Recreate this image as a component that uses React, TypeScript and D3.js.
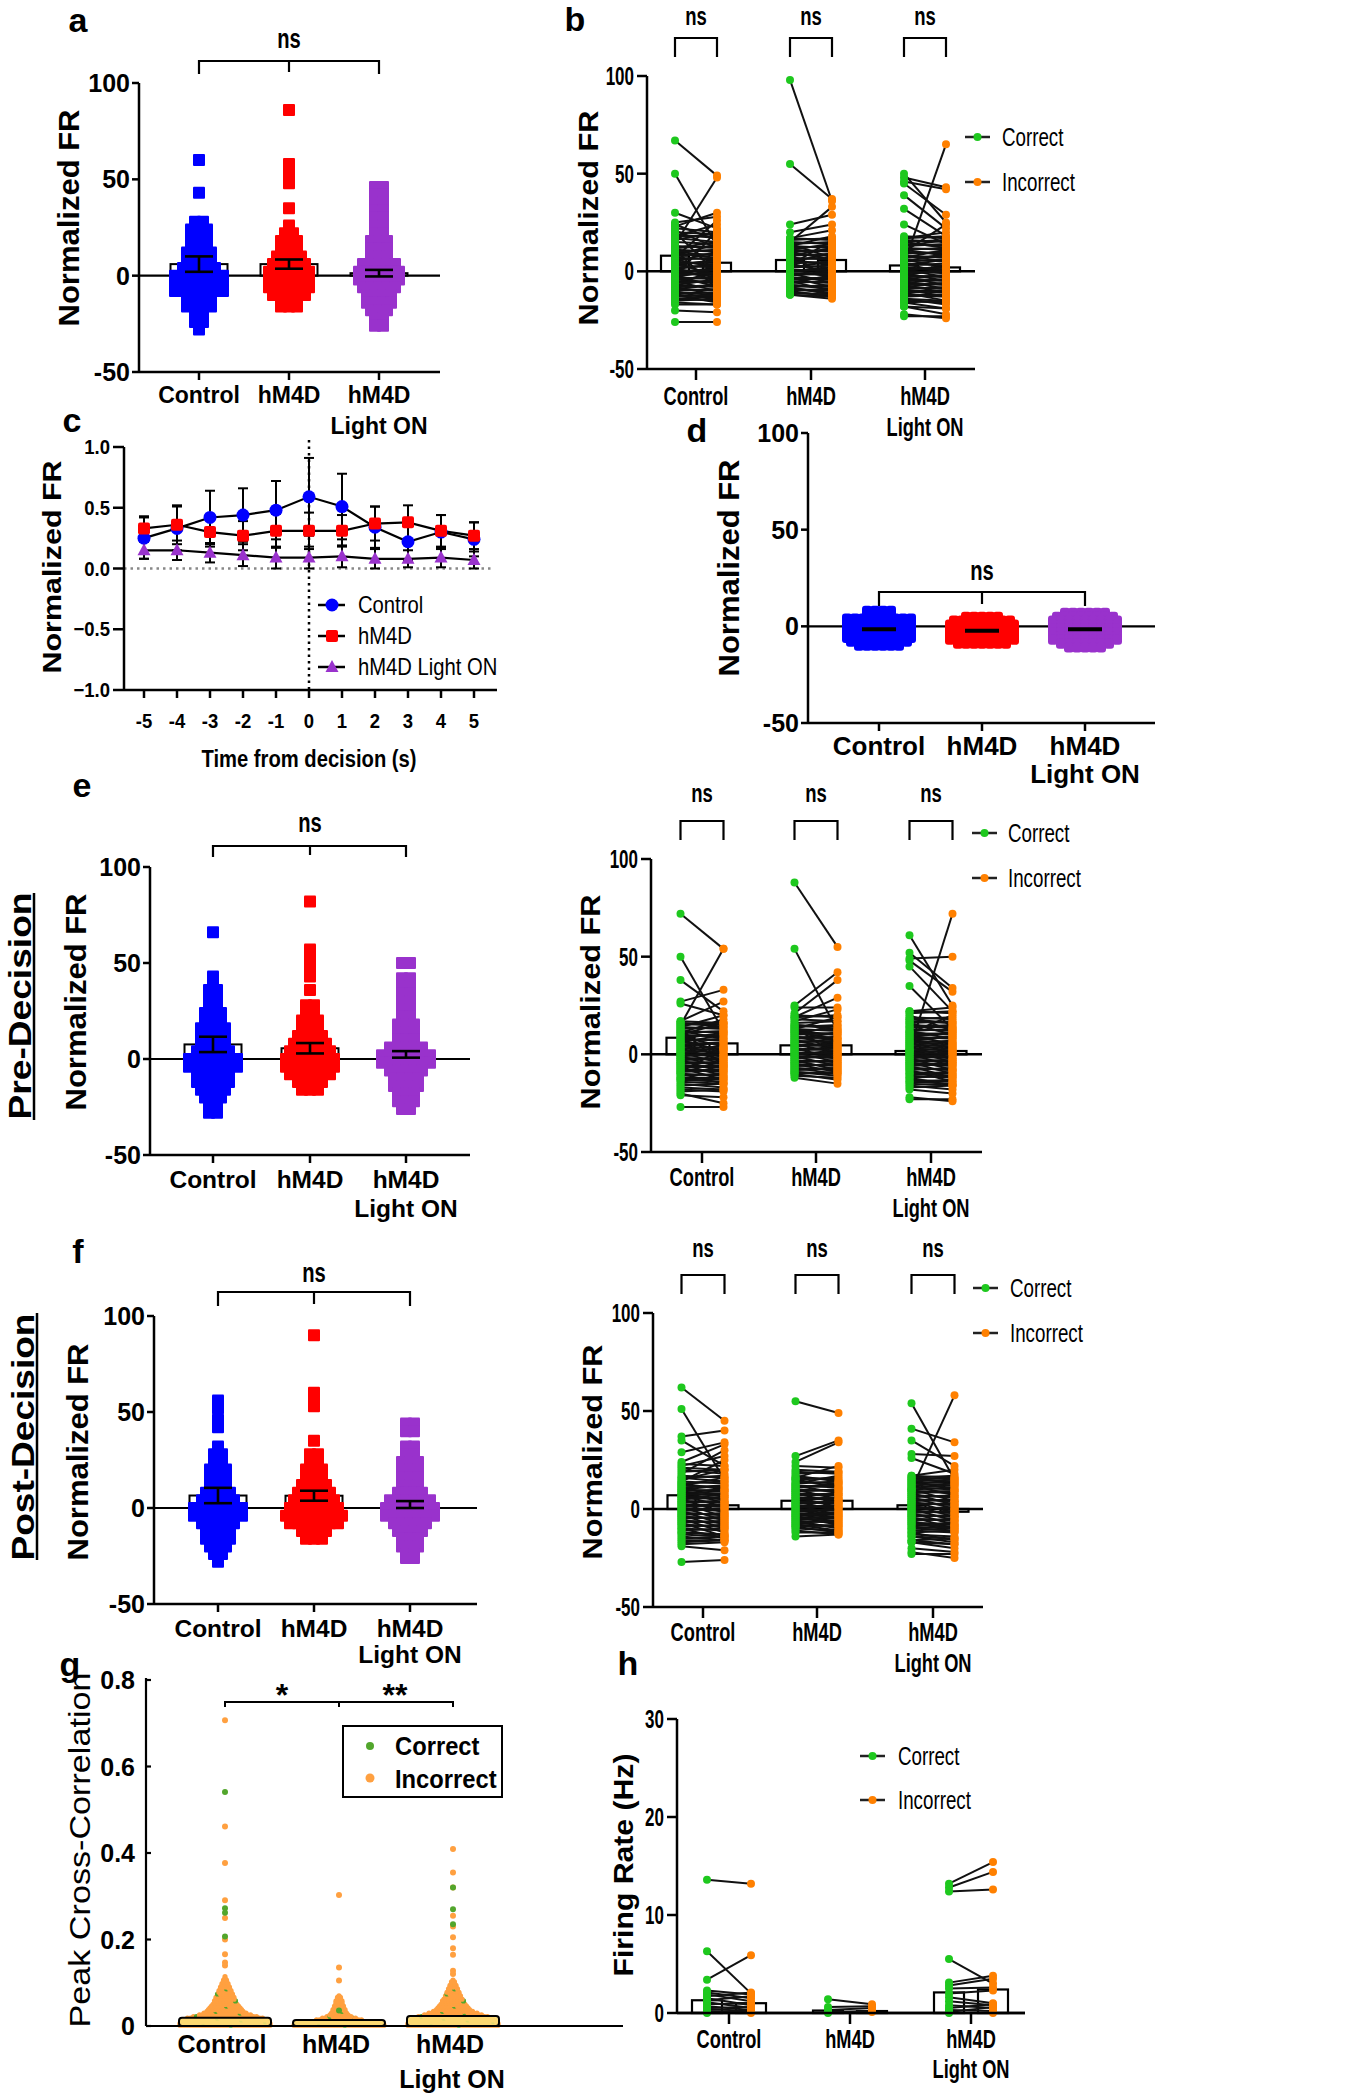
import React from 'react';
import * as d3 from 'd3';

const FONT = '"Liberation Sans", Arial, Helvetica, sans-serif';
const BLUE = '#0000ff', RED = '#ff0000', PURPLE = '#9932cc';
const GREEN = '#1ec81e', ORANGE = '#ff8000';
const G_GREEN = '#52a62c', G_ORANGE = '#ffa040';

// ---------- shared labels ----------
const CAT_LABELS = ['Control', 'hM4D', 'hM4D'];
const LIGHT_LABEL = 'Light ON';
const FR_TICKS = [-50, 0, 50, 100];
const C_YTICKS = [-1, -0.5, 0, 0.5, 1];
const G_YTICKS = [0, 0.2, 0.4, 0.6, 0.8];
const H_YTICKS = [0, 10, 20, 30];

// ---------- panel a (value, count per row) ----------
const aCtrlRows = [[60,1],[43,1],[28,2],[24,3],[20,3],[16,3],[12,4],[8,4],[4,5],[0,7],[-4,7],[-8,7],[-12,4],[-16,4],[-20,2],[-24,2],[-28,1]];
const aHm4dRows = [[86,1],[58,1],[55,1],[51,1],[48,1],[35,1],[26,1],[22,2],[18,3],[14,3],[10,4],[6,5],[2,6],[-2,6],[-6,6],[-10,5],[-14,3],[-16,3]];
const aLightRows = [[46,2],[42,2],[38,2],[34,2],[30,2],[26,2],[22,2],[18,3],[14,3],[10,3],[6,5],[2,6],[-2,6],[-6,5],[-10,4],[-14,4],[-18,3],[-22,2],[-26,2]];
const aMeans = [6, 6, 1.3];
const aSems = [4, 2.4, 1.7];

// ---------- panel e (left) ----------
const eCtrlRows = [[66,1],[43,1],[40,1],[36,2],[32,2],[28,2],[24,3],[20,3],[16,4],[12,4],[8,4],[4,5],[0,7],[-4,7],[-8,5],[-12,5],[-16,4],[-20,3],[-24,2],[-28,2]];
const eHm4dRows = [[82,1],[57,1],[53,1],[48,1],[43,1],[36,1],[28,2],[24,2],[20,3],[16,3],[12,4],[8,5],[4,6],[0,7],[-4,7],[-8,6],[-12,4],[-16,3]];
const eLightRows = [[50,2],[42,2],[38,2],[34,2],[30,2],[26,2],[22,2],[18,3],[14,3],[10,3],[6,5],[2,7],[-2,7],[-6,5],[-10,4],[-14,4],[-18,3],[-22,3],[-26,2]];
const eMeans = [7.6, 5.6, 2.4];
const eSems = [4, 2.7, 1.7];

// ---------- panel f (left) ----------
const fCtrlRows = [[56,1],[52,1],[46,1],[42,1],[32,1],[28,2],[24,2],[20,3],[16,3],[12,3],[8,4],[4,5],[0,7],[-4,7],[-8,5],[-12,4],[-16,4],[-20,3],[-24,2],[-28,1]];
const fHm4dRows = [[90,1],[60,1],[56,1],[53,1],[35,1],[28,2],[24,2],[20,3],[16,3],[12,4],[8,5],[4,6],[0,7],[-4,8],[-8,7],[-12,4],[-16,3]];
const fLightRows = [[44,2],[40,2],[32,2],[28,2],[24,3],[20,3],[16,3],[12,3],[8,4],[4,6],[0,7],[-4,7],[-8,5],[-12,4],[-16,3],[-20,3],[-24,2],[-26,2]];
const fMeans = [6.5, 6.4, 1.8];
const fSems = [4, 2.6, 1.8];

// ---------- panel d ----------
const dCtrlRows = [[8,4],[6,4],[4,9],[2,9],[0,9],[-2,9],[-4,9],[-6,9],[-8,8],[-10,6]];
const dHm4dRows = [[5,5],[3,8],[1,9],[-1,9],[-3,9],[-5,9],[-7,9],[-9,7]];
const dLightRows = [[7,6],[5,8],[3,9],[1,9],[-1,9],[-3,9],[-5,9],[-7,9],[-9,7],[-11,5]];
const dMeans = [-1.5, -2.3, -1.5];

// ---------- panel c ----------
const cTime = [-5,-4,-3,-2,-1,0,1,2,3,4,5];
const cCtrl = [0.25,0.33,0.42,0.44,0.48,0.59,0.51,0.34,0.22,0.30,0.24];
const cCtrlSem = [0.17,0.18,0.22,0.22,0.24,0.32,0.27,0.17,0.15,0.14,0.14];
const cHm4d = [0.33,0.36,0.30,0.27,0.31,0.31,0.31,0.37,0.38,0.31,0.27];
const cHm4dSem = [0.10,0.16,0.12,0.12,0.14,0.15,0.13,0.14,0.14,0.13,0.11];
const cLight = [0.15,0.15,0.13,0.11,0.09,0.09,0.10,0.08,0.08,0.09,0.07];
const cLightSem = [0.07,0.08,0.08,0.09,0.09,0.09,0.09,0.08,0.07,0.08,0.07];
const cLegend = ['Control', 'hM4D', 'hM4D Light ON'];

// ---------- paired panels [correct, incorrect] ----------
const bCtrl = [[67,49],[50,13],[30,22],[25,28],[23,30],[21,12],[14,48],[18,24],[16,20],[12,15],[10,8],[8,14],[6,2],[5,10],[4,-2],[3,6],[2,-5],[1,4],[0,-3],[-1,2],[-2,-8],[-3,1],[-4,-6],[-5,-10],[-6,0],[-7,-4],[-8,-12],[-9,-7],[-10,-15],[-11,-11],[-12,-16],[-14,-13],[-17,-17],[-20,-21],[-26,-26],[20,-1],[-3,21],[24,16],[11,-9],[7,26],
  [22,20],[20,19],[19,17],[18,18],[17,15],[15,14],[13,12],[12,13],[11,10],[10,11],[9,7],[8,9],[7,6],[6,7],[5,3],[4,5],[3,2],[2,3],[1,-1],[0,1],[-1,-2],[-2,-1],[-3,-4],[-4,-3],[-5,-6],[-6,-5],[-7,-8],[-8,-7],[-9,-10],[-10,-9],[-11,-12],[-12,-13],[-13,-12],[-14,-15],[-15,-14],[-16,-17]];
const bHm4d = [[98,36],[55,37],[24,29],[20,24],[17,21],[15,33],[13,18],[11,14],[10,6],[8,12],[6,3],[5,9],[4,-1],[3,16],[2,5],[1,-3],[0,2],[-1,-6],[-2,0],[-3,-8],[-4,-4],[-5,-10],[-6,-2],[-7,-9],[-8,-12],[-9,-11],[-10,-13],[-11,-12],[-12,-14],[14,7],[9,-5],
  [17,16],[16,17],[15,14],[14,15],[13,12],[12,13],[11,10],[10,11],[9,8],[8,9],[7,6],[6,7],[5,4],[4,5],[3,2],[2,3],[1,0],[0,1],[-1,-2],[-2,-1],[-3,-4],[-4,-3],[-5,-6],[-6,-5],[-7,-8],[-8,-7],[-9,-10],[-10,-9],[-11,-12],[-12,-13]];
const bLight = [[50,25],[48,43],[46,42],[45,29],[39,22],[32,18],[24,14],[4,65],[17,20],[15,12],[13,16],[11,8],[10,24],[8,5],[7,11],[6,2],[5,9],[4,-1],[3,6],[2,0],[1,-3],[0,3],[-1,-5],[-2,1],[-3,-7],[-4,-2],[-5,-9],[-6,-4],[-7,-11],[-8,-6],[-9,-13],[-10,-10],[-11,-15],[-12,-12],[-14,-17],[-16,-19],[-18,-22],[-23,-23],[-22,-24],
  [18,17],[17,18],[16,15],[15,16],[14,13],[13,14],[12,11],[11,12],[10,9],[9,10],[8,7],[7,8],[6,5],[5,6],[4,3],[3,4],[2,1],[1,2],[0,-1],[-1,0],[-2,-3],[-3,-2],[-4,-5],[-5,-4],[-6,-7],[-7,-6],[-8,-9],[-9,-8],[-10,-11],[-11,-10],[-12,-13],[-13,-12],[-14,-15],[-15,-16],[-16,-15],[-18,-19]];
const bBars = [[8,4.4],[5.8,5.8],[3,2]];

const eCtrl = [[72,54],[50,12],[38,22],[27,33],[26,20],[15,54],[17,27],[16,14],[14,20],[12,8],[10,16],[9,4],[8,11],[7,2],[6,10],[5,-1],[4,6],[3,-3],[2,3],[1,-5],[0,0],[-1,-7],[-2,-2],[-3,-9],[-4,-4],[-5,-11],[-6,-6],[-7,-13],[-8,-8],[-10,-15],[-12,-12],[-13,-14],[-15,-17],[-18,-19],[-21,-22],[-27,-27],[-20,-25],[11,18],[13,-6],[-9,3],
  [17,16],[16,15],[15,16],[14,13],[13,14],[12,11],[11,12],[10,9],[9,10],[8,7],[7,8],[6,5],[5,6],[4,3],[3,4],[2,1],[1,2],[0,-1],[-1,0],[-2,-3],[-3,-2],[-4,-5],[-5,-4],[-6,-7],[-7,-6],[-8,-9],[-9,-8],[-10,-11],[-11,-10],[-12,-13],[-13,-12],[-14,-15],[-16,-15],[-17,-18],[-19,-18]];
const eHm4d = [[88,55],[54,12],[25,42],[24,24],[21,38],[19,29],[17,23],[15,13],[13,19],[12,10],[11,8],[10,15],[9,5],[8,11],[7,3],[6,8],[5,1],[4,6],[3,-2],[2,4],[1,-4],[0,2],[-1,-6],[-2,0],[-3,-8],[-4,-3],[-5,-9],[-6,-5],[-7,-10],[-8,-7],[-9,-11],[-10,-13],[-12,-15],[14,-1],
  [20,19],[19,20],[18,17],[16,17],[15,14],[14,15],[13,12],[12,13],[11,10],[10,11],[9,8],[8,9],[7,6],[6,7],[5,4],[4,5],[3,2],[2,3],[1,0],[0,1],[-1,-2],[-2,-1],[-3,-4],[-4,-3],[-5,-6],[-6,-5],[-7,-8],[-8,-7],[-9,-10],[-10,-9],[-11,-12]];
const eLight = [[61,25],[52,34],[48,32],[45,22],[49,50],[35,13],[2,72],[22,24],[20,12],[18,16],[16,10],[14,14],[12,8],[11,20],[10,5],[9,11],[8,3],[7,9],[6,1],[5,6],[4,-2],[3,4],[2,-4],[1,2],[0,-6],[-1,0],[-2,-8],[-3,-3],[-4,-10],[-5,-5],[-6,-12],[-7,-8],[-8,-14],[-10,-11],[-12,-16],[-14,-15],[-16,-18],[-18,-20],[-23,-23],[-22,-24],
  [22,21],[21,22],[19,18],[18,19],[17,16],[16,17],[15,14],[14,15],[13,12],[12,13],[11,10],[10,11],[9,8],[8,9],[7,6],[6,7],[5,4],[4,5],[3,2],[2,3],[1,0],[0,1],[-1,-2],[-2,-1],[-3,-4],[-4,-3],[-5,-6],[-6,-5],[-7,-8],[-8,-7],[-9,-10],[-10,-9],[-11,-12],[-12,-11],[-13,-14],[-14,-13],[-15,-16],[-17,-16]];
const eBars = [[8.5,5.6],[4.6,4.6],[1.7,1.7]];

const fCtrl = [[62,45],[51,15],[37,40],[35,22],[29,34],[24,33],[22,27],[20,18],[18,30],[16,14],[15,20],[13,10],[12,16],[11,6],[10,12],[9,3],[8,9],[7,1],[6,7],[5,-2],[4,4],[3,-4],[2,2],[1,-6],[0,0],[-1,-8],[-2,-3],[-3,-10],[-4,-5],[-5,-12],[-6,-7],[-7,-14],[-8,-9],[-10,-15],[-12,-13],[-14,-16],[-16,-16],[-19,-21],[-27,-26],[14,25],
  [23,22],[21,20],[19,20],[17,16],[16,17],[14,13],[13,14],[12,11],[11,12],[10,9],[9,10],[8,7],[7,8],[6,5],[5,6],[4,3],[3,4],[2,1],[1,2],[0,-1],[-1,0],[-2,-3],[-3,-2],[-4,-5],[-5,-4],[-6,-7],[-7,-6],[-8,-9],[-9,-8],[-10,-11],[-11,-10],[-12,-13],[-13,-14],[-15,-14],[-17,-16],[-18,-17]];
const fHm4d = [[55,49],[27,35],[24,34],[22,21],[20,19],[17,14],[16,22],[15,11],[13,17],[12,8],[11,13],[10,5],[9,10],[8,3],[7,7],[6,1],[5,5],[4,-1],[3,3],[2,-3],[1,1],[0,-5],[-1,-2],[-2,-7],[-3,-4],[-4,-8],[-5,-6],[-6,-10],[-7,-9],[-8,-11],[-9,-12],[-11,-13],[-14,-13],
  [19,18],[18,19],[16,15],[15,16],[14,13],[13,14],[12,11],[11,12],[10,9],[9,10],[8,7],[7,8],[6,5],[5,6],[4,3],[3,4],[2,1],[1,2],[0,-1],[-1,0],[-2,-3],[-3,-2],[-4,-5],[-5,-4],[-6,-7],[-7,-6],[-8,-9],[-9,-8],[-10,-11],[-12,-12]];
const fLight = [[54,15],[41,34],[35,22],[28,27],[26,18],[10,58],[17,20],[16,13],[15,16],[14,10],[13,14],[12,7],[11,12],[10,4],[9,9],[8,2],[7,6],[6,0],[5,4],[4,-2],[3,2],[2,-4],[1,0],[0,-6],[-1,-2],[-2,-8],[-3,-4],[-4,-10],[-5,-6],[-6,-12],[-7,-8],[-8,-9],[-10,-11],[-12,-16],[-14,-17],[-16,-18],[-17,-20],[-20,-22],[-23,-23],[-22,-25],
  [17,16],[16,17],[15,14],[14,15],[13,12],[12,13],[11,10],[10,11],[9,8],[8,9],[7,6],[6,7],[5,4],[4,5],[3,2],[2,3],[1,0],[0,1],[-1,-2],[-2,-1],[-3,-4],[-4,-3],[-5,-6],[-6,-5],[-7,-8],[-8,-7],[-9,-10],[-10,-9],[-11,-12],[-12,-11],[-13,-14],[-14,-15],[-16,-15],[-17,-18]];
const fBars = [[7,1.9],[4.2,4.2],[1.9,-1.4]];

// ---------- panel h (Hz) ----------
const hCtrl = [[13.6,13.2],[6.3,2.0],[3.4,5.9],[2.3,1.9],[2.1,1.5],[1.9,1.2],[1.7,2.1],[1.5,0.8],[1.3,1.7],[1.1,0.5],[0.9,1.0],[0.7,0.3],[0.5,0.6],[0.4,0.2],[0.2,0.1],[0.1,0.0],[0.0,0.2]];
const hHm4d = [[1.4,0.9],[0.6,0.7],[0.3,0.5],[0.1,0.2],[0.0,0.1]];
const hLight = [[13.2,15.4],[12.8,14.4],[12.4,12.6],[5.5,3.0],[3.1,3.8],[2.8,3.5],[2.5,2.6],[2.0,2.3],[1.6,1.0],[1.2,0.8],[0.8,0.5],[0.5,0.9],[0.3,0.2],[0.1,0.6],[0.0,0.0]];
const hBars = [[1.3,1.0],[0.25,0.2],[2.1,2.4]];

// ---------- panel g (peak cross-correlation) ----------
const gCtrlRows = [[0.002,31],[0.006,31],[0.010,30],[0.014,28],[0.018,26],[0.022,22],[0.026,18],[0.030,15],[0.034,13],[0.038,12],[0.042,11],[0.046,10],[0.050,9],[0.054,8],[0.058,8],[0.062,7],[0.066,7],[0.070,6],[0.074,6],[0.078,5],[0.082,5],[0.086,4],[0.090,4],[0.094,3],[0.098,3],[0.102,2],[0.106,2],[0.110,1],[0.114,1]];
const gHm4dRows = [[0.002,31],[0.006,30],[0.010,24],[0.014,16],[0.018,12],[0.022,9],[0.026,7],[0.030,6],[0.034,5],[0.038,5],[0.042,4],[0.046,4],[0.050,3],[0.054,3],[0.058,3],[0.062,2],[0.066,2],[0.070,1]];
const gLightRows = [[0.002,31],[0.006,31],[0.010,30],[0.014,29],[0.018,27],[0.022,24],[0.026,20],[0.030,17],[0.034,14],[0.038,12],[0.042,11],[0.046,10],[0.050,9],[0.054,8],[0.058,8],[0.062,7],[0.066,6],[0.070,6],[0.074,5],[0.078,5],[0.082,4],[0.086,4],[0.090,3],[0.094,3],[0.098,2],[0.102,2],[0.106,1]];
const gCtrlOutInc = [0.707,0.461,0.377,0.291,0.25,0.20,0.166,0.147,0.14];
const gCtrlOutCor = [0.541,0.272,0.262,0.207];
const gHm4dOutInc = [0.303,0.135,0.105];
const gHm4dOutCor = [0.036];
const gLightOutInc = [0.409,0.355,0.32,0.255,0.23,0.205,0.18,0.165,0.128,0.12];
const gLightOutCor = [0.32,0.27,0.235];
const gBox = [0.019, 0.014, 0.023];

// ---------- text helper ----------
type TP = { x: number; y: number; t: string; size?: number; anchor?: string; weight?: any; sx?: number; rot?: number; len?: number; fill?: string };
const T = ({ x, y, t, size = 24, anchor = 'middle', weight = 'bold', sx = 1, rot = 0, len, fill = '#000' }: TP) => {
  const tr = `translate(${x},${y})` + (rot ? ` rotate(${rot})` : '') + (sx !== 1 ? ` scale(${sx},1)` : '');
  const extra: any = len ? { textLength: len, lengthAdjust: 'spacingAndGlyphs' } : {};
  return (
    <text transform={tr} x={0} y={0} fontSize={size} textAnchor={anchor as any} fontWeight={weight} fill={fill} fontFamily={FONT} {...extra}>
      {t}
    </text>
  );
};

const VTitle = ({ cx, cy, t, size = 28, len, weight = 'bold' }: { cx: number; cy: number; t: string; size?: number; len?: number; weight?: any }) => (
  <T x={cx + 0.36 * size} y={cy} t={t} size={size} rot={-90} len={len} weight={weight} />
);

function CatLabels({ cats, labY, lab2Y, size, sx = 1 }: { cats: number[]; labY: number; lab2Y: number; size: number; sx?: number }) {
  return (
    <g>
      {cats.map((cx, i) => <T key={i} x={cx} y={labY} t={CAT_LABELS[i]} size={size} sx={sx} />)}
      <T x={cats[2]} y={lab2Y} t={LIGHT_LABEL} size={size} sx={sx} />
    </g>
  );
}

// ---------- swarm panel ----------
function SwarmPanel({ c, groups }: { c: any; groups: any[] }) {
  const y = d3.scaleLinear().domain([-50, 100]).range([c.yM50, c.y100]);
  const y0 = y(0);
  const sq = c.sq, sp = c.sp;
  return (
    <g>
      {c.bars && groups.map((g, i) => (
        <rect key={'bar' + i} x={c.cats[i] - c.barHW} y={Math.min(y(g.mean), y0)} width={2 * c.barHW}
          height={Math.abs(y0 - y(g.mean))} fill="#fff" stroke="#000" strokeWidth={2} />
      ))}
      <line x1={c.axisX} x2={c.xEnd} y1={y0} y2={y0} stroke="#000" strokeWidth={2.2} />
      {groups.map((g, gi) => (
        <g key={'sw' + gi} fill={g.color}>
          {g.rows.flatMap(([v, n]: number[], ri: number) =>
            d3.range(n).map((k) => (
              <rect key={ri + '-' + k} x={c.cats[gi] + (k - (n - 1) / 2) * sp - sq / 2} y={y(v) - sq / 2}
                width={sq} height={sq} rx={c.rx || 1} />
            ))
          )}
        </g>
      ))}
      {c.bars && groups.map((g, i) => {
        const cx = c.cats[i];
        const top = y(g.mean + g.sem), bot = y(g.mean - g.sem);
        return (
          <g key={'err' + i} stroke="#000" strokeWidth={2.6}>
            <line x1={cx} x2={cx} y1={top} y2={bot} />
            <line x1={cx - 14} x2={cx + 14} y1={top} y2={top} />
            <line x1={cx - 14} x2={cx + 14} y1={bot} y2={bot} />
          </g>
        );
      })}
      {!c.bars && groups.map((g, i) => (
        <line key={'m' + i} x1={c.cats[i] - 17} x2={c.cats[i] + 17} y1={y(g.mean)} y2={y(g.mean)} stroke="#000" strokeWidth={4} />
      ))}
      {/* axes */}
      <g stroke="#000" strokeWidth={2.5}>
        <line x1={c.axisX} x2={c.axisX} y1={y(-50)} y2={y(100)} />
        <line x1={c.axisX} x2={c.xEnd} y1={y(-50)} y2={y(-50)} />
        {FR_TICKS.map((v) => <line key={v} x1={c.axisX - 7} x2={c.axisX} y1={y(v)} y2={y(v)} />)}
        {c.cats.map((cx: number, i: number) => <line key={'xt' + i} x1={cx} x2={cx} y1={y(-50)} y2={y(-50) + 8} />)}
      </g>
      {FR_TICKS.map((v) => <T key={'tl' + v} x={c.axisX - 9} y={y(v) + 9} t={String(v)} size={c.tickSize} anchor="end" />)}
      {/* bracket */}
      <g stroke="#000" strokeWidth={2.2} fill="none">
        <polyline points={`${c.cats[0]},${c.brEnd} ${c.cats[0]},${c.brY} ${c.cats[2]},${c.brY} ${c.cats[2]},${c.brEnd}`} />
        <line x1={c.cats[1]} x2={c.cats[1]} y1={c.brY} y2={c.brEnd - 2} />
      </g>
      <T x={c.cats[1]} y={c.nsY} t="ns" size={28} sx={0.72} />
      <CatLabels cats={c.cats} labY={c.labY} lab2Y={c.lab2Y} size={c.labSize} />
      <VTitle cx={c.titleX} cy={c.titleY} t="Normalized FR" size={30} len={217} />
    </g>
  );
}

// ---------- paired panel ----------
function PairPanel({ c, groups, bars }: { c: any; groups: number[][][]; bars: number[][] }) {
  const y = d3.scaleLinear().domain(c.domain).range([c.yBot, c.yTop]);
  const y0 = y(0);
  const hw = c.barHW;
  return (
    <g>
      {bars.map((b, i) => {
        const gx = c.cats[i] - c.off, ox = c.cats[i] + c.off;
        return (
          <g key={'bars' + i} fill="#fff" stroke="#000" strokeWidth={2.2}>
            <rect x={gx - hw} y={Math.min(y(b[0]), y0)} width={2 * hw} height={Math.abs(y0 - y(b[0]))} />
            <rect x={ox - hw} y={Math.min(y(b[1]), y0)} width={2 * hw} height={Math.abs(y0 - y(b[1]))} />
          </g>
        );
      })}
      <line x1={c.axisX} x2={c.xEnd} y1={y0} y2={y0} stroke="#000" strokeWidth={2.5} />
      {groups.map((pairs, gi) => {
        const gx = c.cats[gi] - c.off, ox = c.cats[gi] + c.off;
        return (
          <g key={'pg' + gi}>
            <g stroke="#111" strokeWidth={2}>
              {pairs.map((p, k) => <line key={k} x1={gx} x2={ox} y1={y(p[0])} y2={y(p[1])} />)}
            </g>
            {pairs.map((p, k) => <circle key={'g' + k} cx={gx} cy={y(p[0])} r={4} fill={GREEN} />)}
            {pairs.map((p, k) => <circle key={'o' + k} cx={ox} cy={y(p[1])} r={4} fill={ORANGE} />)}
          </g>
        );
      })}
      <g stroke="#000" strokeWidth={2.5}>
        <line x1={c.axisX} x2={c.axisX} y1={c.yBot} y2={c.yTop} />
        <line x1={c.axisX} x2={c.xEnd} y1={c.yBot} y2={c.yBot} />
        {c.ticks.map((v: number) => <line key={v} x1={c.axisX - 10} x2={c.axisX} y1={y(v)} y2={y(v)} />)}
        {c.cats.map((cx: number, i: number) => <line key={'xt' + i} x1={cx} x2={cx} y1={c.yBot} y2={c.yBot + 11} />)}
      </g>
      {c.ticks.map((v: number) => <T key={'tl' + v} x={c.axisX - 13} y={y(v) + 9} t={String(v)} size={25} sx={0.68} anchor="end" />)}
      {c.ns && c.cats.map((cx: number, i: number) => (
        <g key={'ns' + i}>
          <polyline points={`${cx - c.off},${c.brBot} ${cx - c.off},${c.brTop} ${cx + c.off},${c.brTop} ${cx + c.off},${c.brBot}`}
            fill="none" stroke="#000" strokeWidth={2.2} />
          <T x={cx} y={c.nsY} t="ns" size={25} sx={0.74} />
        </g>
      ))}
      {/* legend */}
      {[['Correct', GREEN, c.legY[0]], ['Incorrect', ORANGE, c.legY[1]]].map(([lab, col, ly]: any) => (
        <g key={lab}>
          <line x1={c.legLine} x2={c.legLine + 25} y1={ly} y2={ly} stroke="#222" strokeWidth={2.5} />
          <circle cx={c.legLine + 12.5} cy={ly} r={4} fill={col} />
          <T x={c.legText} y={ly + 9} t={lab} size={25} weight="normal" sx={0.75} anchor="start" />
        </g>
      ))}
      <CatLabels cats={c.cats} labY={c.labY} lab2Y={c.lab2Y} size={25} sx={0.73} />
      <VTitle cx={c.titleX} cy={c.titleY} t={c.title} size={27} len={c.titleLen} />
    </g>
  );
}

// ---------- panel c ----------
function PanelC() {
  const x = d3.scaleLinear().domain([-5, 5]).range([144, 474]);
  const y = d3.scaleLinear().domain([-1, 1]).range([690, 447]);
  const series = [
    { m: cCtrl, s: cCtrlSem, color: BLUE, shape: 'circle' },
    { m: cHm4d, s: cHm4dSem, color: RED, shape: 'square' },
    { m: cLight, s: cLightSem, color: PURPLE, shape: 'tri' },
  ];
  const line = d3.line<number>().x((_, i) => x(cTime[i])).y((v) => y(v));
  const marker = (shape: string, cx: number, cy: number, color: string, key: any) => {
    if (shape === 'circle') return <circle key={key} cx={cx} cy={cy} r={6.5} fill={color} />;
    if (shape === 'square') return <rect key={key} x={cx - 6} y={cy - 6} width={12} height={12} rx={2} fill={color} />;
    return <path key={key} d={`M${cx},${cy - 7} L${cx + 6.5},${cy + 5} L${cx - 6.5},${cy + 5} Z`} fill={color} />;
  };
  return (
    <g>
      <line x1={124} x2={492} y1={y(0)} y2={y(0)} stroke="#888" strokeWidth={2.5} strokeDasharray="2.5,4" />
      <line x1={x(0)} x2={x(0)} y1={440} y2={690} stroke="#000" strokeWidth={2.5} strokeDasharray="2.5,4" />
      {series.map((s, si) => (
        <g key={'eb' + si} stroke="#000" strokeWidth={2}>
          {s.m.map((v, i) => (
            <g key={i}>
              <line x1={x(cTime[i])} x2={x(cTime[i])} y1={y(v + s.s[i])} y2={y(v - s.s[i])} />
              <line x1={x(cTime[i]) - 5} x2={x(cTime[i]) + 5} y1={y(v + s.s[i])} y2={y(v + s.s[i])} />
              <line x1={x(cTime[i]) - 5} x2={x(cTime[i]) + 5} y1={y(v - s.s[i])} y2={y(v - s.s[i])} />
            </g>
          ))}
        </g>
      ))}
      {series.map((s, si) => (
        <path key={'ln' + si} d={line(s.m) || ''} fill="none" stroke="#000" strokeWidth={2.2} />
      ))}
      {series.map((s, si) => (
        <g key={'mk' + si}>{s.m.map((v, i) => marker(s.shape, x(cTime[i]), y(v), s.color, i))}</g>
      ))}
      <g stroke="#000" strokeWidth={2.5}>
        <line x1={124} x2={124} y1={690} y2={447} />
        <line x1={124} x2={497} y1={690} y2={690} />
        {C_YTICKS.map((v) => <line key={v} x1={113} x2={124} y1={y(v)} y2={y(v)} />)}
        {cTime.map((t) => <line key={'xt' + t} x1={x(t)} x2={x(t)} y1={690} y2={698} />)}
      </g>
      {C_YTICKS.map((v) => <T key={'yl' + v} x={110} y={y(v) + 7} t={d3.format('.1f')(v)} size={21} sx={0.88} anchor="end" />)}
      {cTime.map((t) => <T key={'xl' + t} x={x(t)} y={728} t={String(t)} size={21} sx={0.88} />)}
      <T x={309} y={767} t="Time from decision (s)" size={23} len={215} />
      <VTitle cx={52} cy={567} t="Normalized FR" size={26} len={213} />
      {series.map((s, i) => {
        const ly = [605, 636, 667][i];
        return (
          <g key={'lg' + i}>
            <line x1={318} x2={345} y1={ly} y2={ly} stroke="#000" strokeWidth={2.5} />
            {marker(s.shape, 332, ly, s.color, 'm')}
            <T x={358} y={ly + 8} t={cLegend[i]} size={23} weight="normal" sx={0.88} anchor="start" />
          </g>
        );
      })}
    </g>
  );
}

// ---------- panel g ----------
function PanelG() {
  const cats = [225, 339, 453];
  const y = d3.scaleLinear().domain([0, 0.8]).range([2026, 1680]);
  const groups = [
    { rows: gCtrlRows, inc: gCtrlOutInc, cor: gCtrlOutCor },
    { rows: gHm4dRows, inc: gHm4dOutInc, cor: gHm4dOutCor },
    { rows: gLightRows, inc: gLightOutInc, cor: gLightOutCor },
  ];
  return (
    <g>
      {groups.map((g, gi) => (
        <g key={'gg' + gi}>
          {g.rows.flatMap(([v, n], ri) =>
            d3.range(n).map((k) => (
              <circle key={ri + '-' + k} cx={cats[gi] + (k - (n - 1) / 2) * 3} cy={y(v)} r={2.6}
                fill={(k * 7 + ri * 5) % 29 === 3 ? G_GREEN : G_ORANGE} />
            ))
          )}
          {g.inc.map((v, k) => <circle key={'i' + k} cx={cats[gi]} cy={y(v)} r={3} fill={G_ORANGE} />)}
          {g.cor.map((v, k) => <circle key={'c' + k} cx={cats[gi]} cy={y(v)} r={3} fill={G_GREEN} />)}
          <rect x={cats[gi] - 46} y={y(gBox[gi])} width={92} height={y(0) - y(gBox[gi])} rx={3}
            fill="#fbe27a" fillOpacity={0.85} stroke="#000" strokeWidth={2} />
        </g>
      ))}
      <g stroke="#000" strokeWidth={2.2}>
        <line x1={146} x2={146} y1={2026} y2={1678} />
        <line x1={146} x2={623} y1={2026} y2={2026} />
        {G_YTICKS.map((v) => <line key={v} x1={146} x2={151} y1={y(v)} y2={y(v)} />)}
      </g>
      {G_YTICKS.map((v) => <T key={'yl' + v} x={135} y={y(v) + 9} t={v === 0 ? '0' : d3.format('.1f')(v)} size={25} anchor="end" />)}
      {cats.map((cx, i) => <T key={'xl' + i} x={cx - 3} y={2053} t={CAT_LABELS[i]} size={25} />)}
      <T x={cats[2] - 1} y={2088} t={LIGHT_LABEL} size={25} />
      <VTitle cx={80} cy={1850} t="Peak Cross-Correlation" size={29} len={355} weight="normal" />
      <g stroke="#000" strokeWidth={2} fill="none">
        <polyline points={`${cats[0]},1707 ${cats[0]},1702 ${cats[2]},1702 ${cats[2]},1707`} />
        <line x1={cats[1]} x2={cats[1]} y1={1702} y2={1707} />
      </g>
      <T x={282} y={1706} t="*" size={32} />
      <T x={395} y={1706} t="**" size={32} />
      <rect x={343} y={1726} width={159} height={71} fill="#fff" stroke="#000" strokeWidth={2} />
      <circle cx={370} cy={1746} r={4} fill={G_GREEN} />
      <circle cx={370} cy={1778} r={4.5} fill={G_ORANGE} />
      <T x={395} y={1755} t="Correct" size={25} sx={0.95} anchor="start" />
      <T x={395} y={1788} t="Incorrect" size={25} sx={0.95} anchor="start" />
    </g>
  );
}

export default function App() {
  const aCfg = { axisX: 139, y100: 83, yM50: 372, xEnd: 440, cats: [199, 289, 379], brY: 61, brEnd: 74, nsY: 48, labY: 403, lab2Y: 434, titleX: 68, titleY: 218, labSize: 23, tickSize: 25, barHW: 28.5, sq: 12, sp: 8, bars: true };
  const eCfg = { axisX: 150, y100: 867, yM50: 1155, xEnd: 470, cats: [213, 310, 406], brY: 846, brEnd: 857, nsY: 832, labY: 1188, lab2Y: 1217, titleX: 75, titleY: 1002, labSize: 24.5, tickSize: 25, barHW: 28.5, sq: 12, sp: 8, bars: true };
  const fCfg = { axisX: 154, y100: 1316, yM50: 1604, xEnd: 477, cats: [218, 314, 410], brY: 1292, brEnd: 1306, nsY: 1282, labY: 1637, lab2Y: 1663, titleX: 77, titleY: 1452, labSize: 24.5, tickSize: 25, barHW: 28.5, sq: 12, sp: 8, bars: true };
  const dCfg = { axisX: 808, y100: 433, yM50: 723, xEnd: 1155, cats: [879, 982, 1085], brY: 592, brEnd: 606, nsY: 580, labY: 755, lab2Y: 783, titleX: 728, titleY: 568, labSize: 26, tickSize: 25, sq: 10, sp: 8, rx: 3, bars: false };

  const bCfg = { domain: [-50, 100], yBot: 369, yTop: 76, axisX: 647, xEnd: 975, cats: [696, 811, 925], off: 21, barHW: 14, ticks: FR_TICKS, ns: true, brTop: 38, brBot: 57, nsY: 25, legLine: 965, legText: 1002, legY: [137, 182], labY: 405, lab2Y: 436, titleX: 588, titleY: 218, title: 'Normalized FR', titleLen: 215 };
  const erCfg = { domain: [-50, 100], yBot: 1152, yTop: 859, axisX: 651, xEnd: 982, cats: [702, 816, 931], off: 21.5, barHW: 14, ticks: FR_TICKS, ns: true, brTop: 821, brBot: 840, nsY: 802, legLine: 972, legText: 1008, legY: [833, 878], labY: 1186, lab2Y: 1217, titleX: 590, titleY: 1002, title: 'Normalized FR', titleLen: 215 };
  const frCfg = { domain: [-50, 100], yBot: 1607, yTop: 1313, axisX: 653, xEnd: 983, cats: [703, 817, 933], off: 21.5, barHW: 14, ticks: FR_TICKS, ns: true, brTop: 1275, brBot: 1294, nsY: 1257, legLine: 973, legText: 1010, legY: [1288, 1333], labY: 1641, lab2Y: 1672, titleX: 592, titleY: 1452, title: 'Normalized FR', titleLen: 215 };
  const hCfg = { domain: [0, 30], yBot: 2013, yTop: 1719, axisX: 677, xEnd: 1025, cats: [729, 850, 971], off: 22, barHW: 15, ticks: H_YTICKS, ns: false, legLine: 860, legText: 898, legY: [1756, 1800], labY: 2048, lab2Y: 2078, titleX: 623, titleY: 1865, title: 'Firing Rate (Hz)', titleLen: 223 };

  const grp = (rows: number[][][], means: number[], sems: number[]) =>
    rows.map((r, i) => ({ rows: r, mean: means[i], sem: sems[i], color: [BLUE, RED, PURPLE][i] }));

  return (
    <div style={{ position: 'absolute', left: 0, top: 0 }}>
      <svg width={1351} height={2100} viewBox="0 0 1351 2100" style={{ display: 'block', background: '#fff' }}>
        <rect width={1351} height={2100} fill="#fff" />
        <SwarmPanel c={aCfg} groups={grp([aCtrlRows, aHm4dRows, aLightRows], aMeans, aSems)} />
        <PairPanel c={bCfg} groups={[bCtrl, bHm4d, bLight]} bars={bBars} />
        <PanelC />
        <SwarmPanel c={dCfg} groups={grp([dCtrlRows, dHm4dRows, dLightRows], dMeans, [0, 0, 0])} />
        <SwarmPanel c={eCfg} groups={grp([eCtrlRows, eHm4dRows, eLightRows], eMeans, eSems)} />
        <PairPanel c={erCfg} groups={[eCtrl, eHm4d, eLight]} bars={eBars} />
        <SwarmPanel c={fCfg} groups={grp([fCtrlRows, fHm4dRows, fLightRows], fMeans, fSems)} />
        <PairPanel c={frCfg} groups={[fCtrl, fHm4d, fLight]} bars={fBars} />
        <PanelG />
        <PairPanel c={hCfg} groups={[hCtrl, hHm4d, hLight]} bars={hBars} />

        {/* panel letters */}
        <T x={78} y={32} t="a" size={34} />
        <T x={575} y={31} t="b" size={34} />
        <T x={72} y={432} t="c" size={34} />
        <T x={697} y={442} t="d" size={34} />
        <T x={82} y={797} t="e" size={34} />
        <T x={78} y={1263} t="f" size={34} />
        <T x={70} y={1676} t="g" size={34} />
        <T x={628} y={1675} t="h" size={34} />

        {/* row headings */}
        <T x={31} y={1006} t="Pre-Decision" size={32} rot={-90} len={227} />
        <line x1={34} x2={34} y1={893} y2={1120} stroke="#000" strokeWidth={2.5} />
        <T x={34} y={1437} t="Post-Decision" size={32} rot={-90} len={247} />
        <line x1={37} x2={37} y1={1313} y2={1560} stroke="#000" strokeWidth={2.5} />
      </svg>
    </div>
  );
}
